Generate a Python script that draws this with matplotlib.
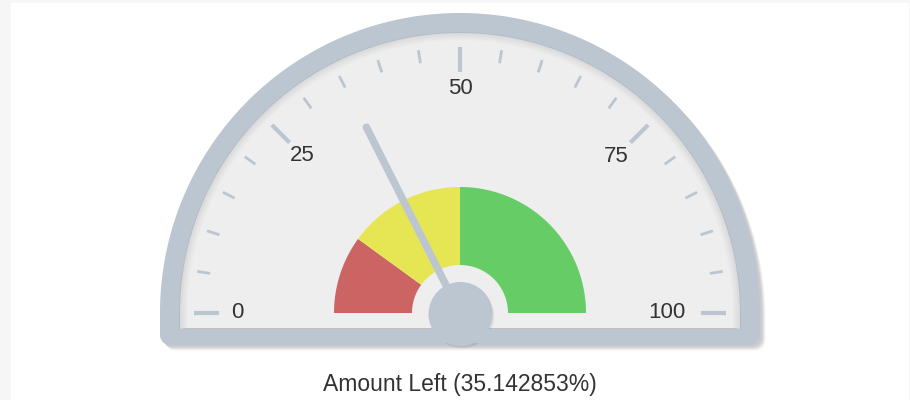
import numpy as np
import matplotlib.pyplot as plt
from matplotlib.patches import Polygon, Circle, Rectangle

# gauge data
value = 35.142853
title = "Amount Left (35.142853%)"
band_from = [0, 20, 50]
band_to = [20, 50, 100]
band_colors = ["#cc6464", "#e6e655", "#66cc66"]
major_ticks = [0, 25, 50, 75, 100]
major_labels = ["0", "25", "50", "75", "100"]
minor_ticks = [v for v in range(0, 101, 5) if v not in major_ticks]

# geometry in pixels
cx, cy = 460, 313
steel = "#bbc6d1"
face_col = "#eeeeee"
text_col = "#333333"


def pt(v, r):
    t = np.pi * (1 - v / 100.0)
    return cx + r * np.cos(t), cy - r * np.sin(t)


def dome(R, bottom, corner=0):
    t = np.linspace(np.pi, 0, 200)
    xs = list(cx + R * np.cos(t))
    ys = list(cy - R * np.sin(t))
    if corner > 0:
        a = np.linspace(0, -np.pi / 2, 20)
        xs += list(cx + R - corner + corner * np.cos(a))
        ys += list(bottom - corner - corner * np.sin(a))
        a = np.linspace(-np.pi / 2, -np.pi, 20)
        xs += list(cx - R + corner + corner * np.cos(a))
        ys += list(bottom - corner - corner * np.sin(a))
    else:
        xs += [cx + R, cx - R]
        ys += [bottom, bottom]
    return np.column_stack([xs, ys])


def band(v0, v1, r0, r1):
    v = np.linspace(v0, v1, 100)
    outer = np.array([pt(x, r1) for x in v])
    inner = np.array([pt(x, r0) for x in v[::-1]])
    return np.vstack([outer, inner])


fig = plt.figure(figsize=(9.1, 4.0), dpi=100)
fig.patch.set_facecolor("#f6f6f6")
ax = fig.add_axes([0, 0, 1, 1])
ax.set_xlim(0, 910)
ax.set_ylim(400, 0)
ax.axis("off")

ax.add_patch(Rectangle((11, 3), 897, 396, color="white", zorder=0))

# drop shadow of the bezel
for i in range(6):
    shp = dome(300, 345, 10) + [2 + i * 0.7, 2 + i * 0.7]
    ax.add_patch(Polygon(shp, color="black", alpha=0.035, lw=0, zorder=1))

ax.add_patch(Polygon(dome(300, 345, 10), color=steel, lw=0, zorder=2))
ax.add_patch(Polygon(dome(280, 329), color=face_col, lw=0, zorder=3))

# inner shadow of the face
for i in range(8):
    shp = dome(280 - i, 329)
    ax.add_patch(Polygon(shp, fill=False, ec="black", lw=1.2,
                         alpha=0.05 * (8 - i) / 8, zorder=3.5))

# colour bands
for v0, v1, c in zip(band_from, band_to, band_colors):
    ax.add_patch(Polygon(band(v0, v1, 48, 126), color=c, lw=0, zorder=4))

# ticks, labels sit with their inner edge on a common circle
label_r = {0: 223, 25: 223, 50: 224, 75: 221, 100: 207}
for v in minor_ticks:
    (x0, y0), (x1, y1) = pt(v, 253), pt(v, 266)
    ax.plot([x0, x1], [y0, y1], color=steel, lw=2, solid_capstyle="butt", zorder=5)
for v, lab in zip(major_ticks, major_labels):
    (x0, y0), (x1, y1) = pt(v, 241), pt(v, 266)
    ax.plot([x0, x1], [y0, y1], color=steel, lw=3, solid_capstyle="butt", zorder=5)
    lx, ly = pt(v, label_r[v])
    ax.text(lx, ly, lab, ha="center", va="center", fontsize=16,
            family="Liberation Sans", color=text_col, zorder=6)

# needle and pivot
nx, ny = pt(value, 208)
ax.plot([cx, nx], [cy, ny], color=steel, lw=5.4, solid_capstyle="round", zorder=7)
ax.add_patch(Circle((cx + 2, cy + 3), 32, color="black", alpha=0.08, lw=0, zorder=7))
ax.add_patch(Circle((cx + 0.5, cy + 1), 32, color=steel, lw=0, zorder=8))

# bottom bar covers the lower part of the pivot
ax.add_patch(Rectangle((180, 329), 560, 14, color=steel, lw=0, zorder=9))

ax.text(cx, 385, title, ha="center", va="center", fontsize=16.5,
        family="Liberation Sans", color=text_col, zorder=10)

fig.savefig("out.png", dpi=100, facecolor=fig.get_facecolor())
